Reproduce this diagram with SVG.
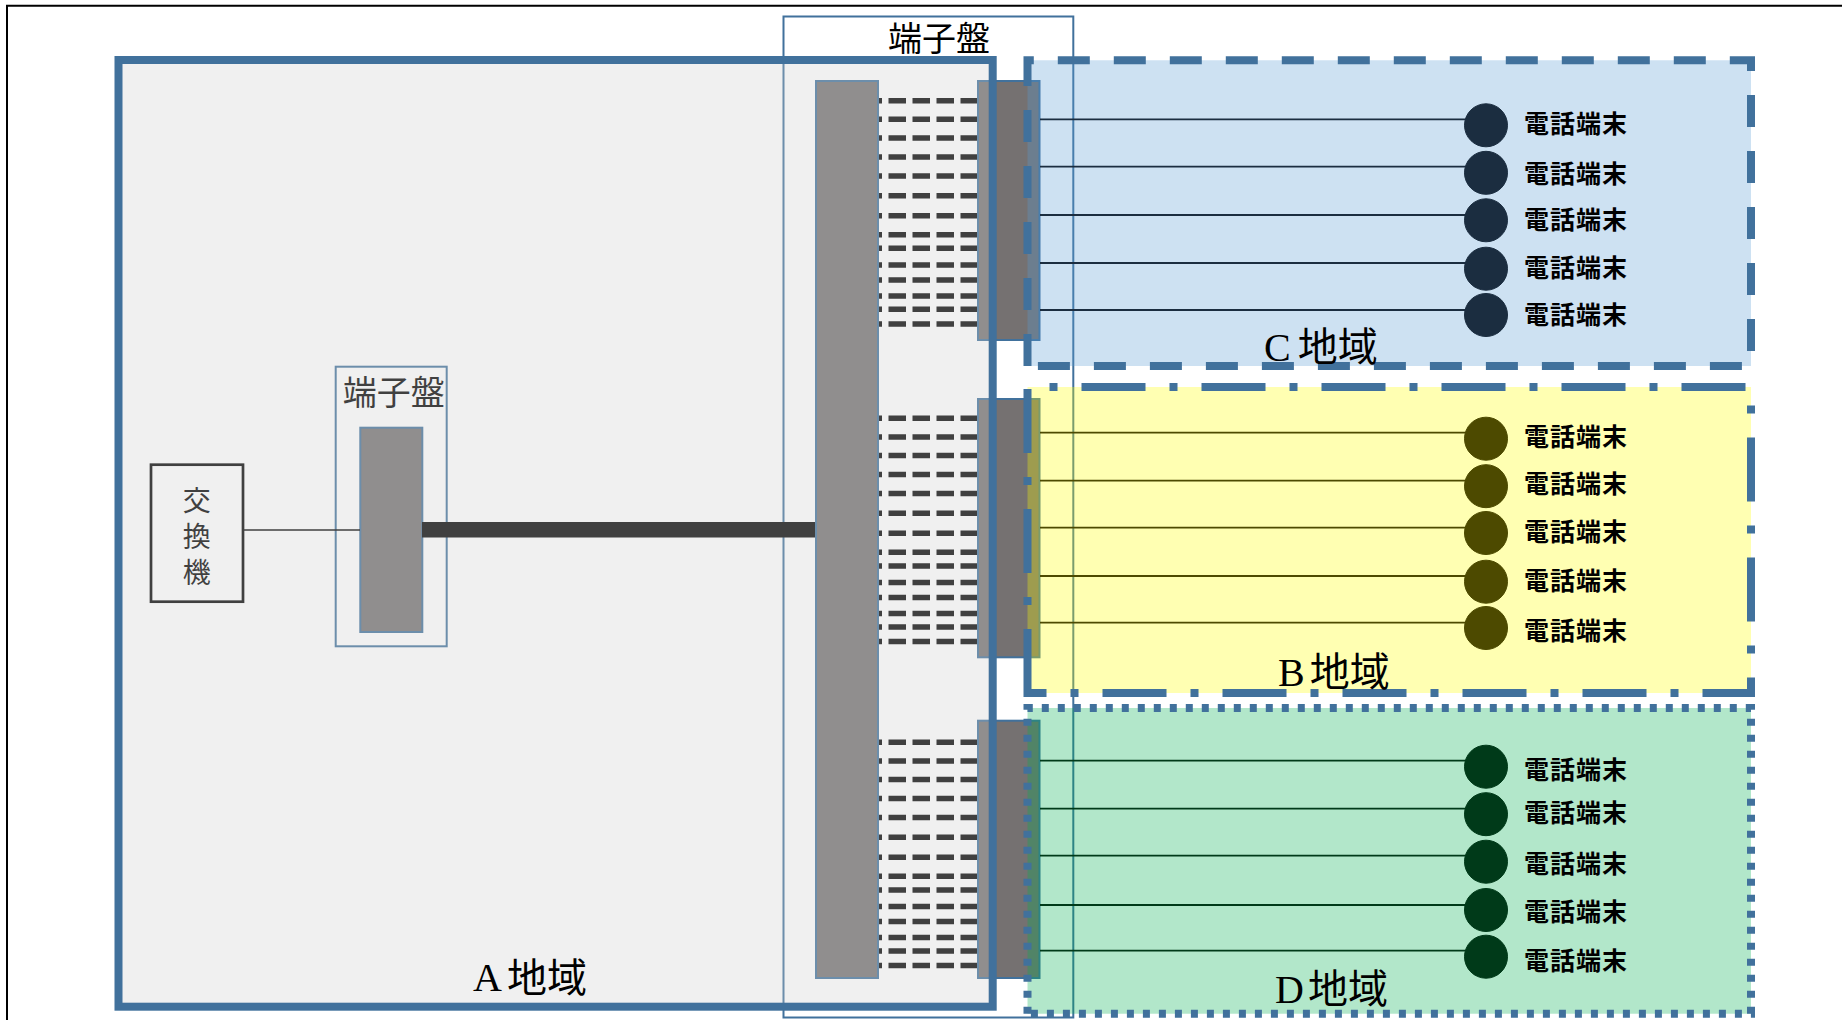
<svg xmlns="http://www.w3.org/2000/svg" width="1842" height="1020" viewBox="0 0 1842 1020">
<defs>
<style>
.jp{font-family:"Noto Sans CJK JP","Noto Sans CJK SC",sans-serif}
.lbl{font-family:"Liberation Serif","Noto Sans CJK JP",serif;font-size:40px;fill:#000}
.tel{font-family:"Noto Sans CJK JP",sans-serif;font-size:25px;font-weight:700;fill:#000;letter-spacing:1px;dominant-baseline:central}
.bar{fill:#757171;stroke:#41719C;stroke-width:2}
.thin{fill:none;stroke:#41719C;stroke-width:2}
.dl{stroke:#000;stroke-width:5.5;stroke-dasharray:17.5 6.5;fill:none}
.region{stroke:#41719C;stroke-width:8;stroke-linejoin:miter}
.c{stroke:#1b2d40;fill:#1b2d40}
.b{stroke:#4d4a00;fill:#4d4a00}
.d{stroke:#003a19;fill:#003a19}
.wire{stroke-width:1.8;fill:none}
</style>
</defs>
<rect width="1842" height="1020" fill="#fff"/>
<path d="M7,1022 V5.7 H1846" fill="none" stroke="#000" stroke-width="2"/>

<g id="frame-main">
<rect x="783.5" y="16.5" width="289.8" height="1001" class="thin"/>
<text class="jp" x="939" y="36.7" font-size="34" text-anchor="middle" dominant-baseline="central" fill="#000">端子盤</text>
</g>

<g id="exchange">
<rect x="151" y="464.7" width="92" height="137" fill="none" stroke="#000" stroke-width="2.7"/>
<text class="jp" x="196.7" y="486" font-size="28" writing-mode="vertical-rl" letter-spacing="8" fill="#000">交換機</text>
</g>

<g id="frame-small">
<rect x="335.7" y="366.7" width="111" height="279.6" class="thin"/>
<text class="jp" x="393.7" y="390" font-size="34" text-anchor="middle" dominant-baseline="central" fill="#000">端子盤</text>
<rect x="360.3" y="427.7" width="62" height="204.3" class="bar"/>
</g>

<g id="connectors-a">
<line x1="243" y1="530" x2="360" y2="530" stroke="#000" stroke-width="1.5"/>
<line x1="422" y1="529.7" x2="816" y2="529.7" stroke="#000" stroke-width="15.5"/>
<g id="patch-c">
<line x1="978" y1="100.7" x2="878" y2="100.7" class="dl"/>
<line x1="978" y1="119.3" x2="878" y2="119.3" class="dl"/>
<line x1="978" y1="138" x2="878" y2="138" class="dl"/>
<line x1="978" y1="157" x2="878" y2="157" class="dl"/>
<line x1="978" y1="176" x2="878" y2="176" class="dl"/>
<line x1="978" y1="195.7" x2="878" y2="195.7" class="dl"/>
<line x1="978" y1="215.7" x2="878" y2="215.7" class="dl"/>
<line x1="978" y1="234.7" x2="878" y2="234.7" class="dl"/>
<line x1="978" y1="248.3" x2="878" y2="248.3" class="dl"/>
<line x1="978" y1="265" x2="878" y2="265" class="dl"/>
<line x1="978" y1="280" x2="878" y2="280" class="dl"/>
<line x1="978" y1="296" x2="878" y2="296" class="dl"/>
<line x1="978" y1="309.3" x2="878" y2="309.3" class="dl"/>
<line x1="978" y1="324" x2="878" y2="324" class="dl"/>
</g>
<g id="patch-b">
<line x1="978" y1="418.3" x2="878" y2="418.3" class="dl"/>
<line x1="978" y1="436.9" x2="878" y2="436.9" class="dl"/>
<line x1="978" y1="455.6" x2="878" y2="455.6" class="dl"/>
<line x1="978" y1="474.6" x2="878" y2="474.6" class="dl"/>
<line x1="978" y1="493.6" x2="878" y2="493.6" class="dl"/>
<line x1="978" y1="513.3" x2="878" y2="513.3" class="dl"/>
<line x1="978" y1="533.3" x2="878" y2="533.3" class="dl"/>
<line x1="978" y1="552.3" x2="878" y2="552.3" class="dl"/>
<line x1="978" y1="565.9" x2="878" y2="565.9" class="dl"/>
<line x1="978" y1="582.6" x2="878" y2="582.6" class="dl"/>
<line x1="978" y1="597.6" x2="878" y2="597.6" class="dl"/>
<line x1="978" y1="613.6" x2="878" y2="613.6" class="dl"/>
<line x1="978" y1="626.9" x2="878" y2="626.9" class="dl"/>
<line x1="978" y1="641.6" x2="878" y2="641.6" class="dl"/>
</g>
<g id="patch-d">
<line x1="978" y1="742.3" x2="878" y2="742.3" class="dl"/>
<line x1="978" y1="760.9" x2="878" y2="760.9" class="dl"/>
<line x1="978" y1="779.6" x2="878" y2="779.6" class="dl"/>
<line x1="978" y1="798.6" x2="878" y2="798.6" class="dl"/>
<line x1="978" y1="817.6" x2="878" y2="817.6" class="dl"/>
<line x1="978" y1="837.3" x2="878" y2="837.3" class="dl"/>
<line x1="978" y1="857.3" x2="878" y2="857.3" class="dl"/>
<line x1="978" y1="876.3" x2="878" y2="876.3" class="dl"/>
<line x1="978" y1="889.9" x2="878" y2="889.9" class="dl"/>
<line x1="978" y1="906.6" x2="878" y2="906.6" class="dl"/>
<line x1="978" y1="921.6" x2="878" y2="921.6" class="dl"/>
<line x1="978" y1="937.6" x2="878" y2="937.6" class="dl"/>
<line x1="978" y1="950.9" x2="878" y2="950.9" class="dl"/>
<line x1="978" y1="965.6" x2="878" y2="965.6" class="dl"/>
</g>
</g>

<g id="main-bar"><rect x="816" y="81" width="62" height="897" class="bar"/></g>
<g id="block-c"><rect x="978" y="81" width="61.5" height="259" class="bar"/></g>
<g id="block-b"><rect x="978" y="399" width="61.5" height="258.3" class="bar"/></g>
<g id="block-d"><rect x="978" y="720.7" width="61.5" height="257.3" class="bar"/></g>

<g id="region-a">
<rect x="118.5" y="60" width="874.2" height="946.7" fill="#cecece" fill-opacity="0.31" stroke="#41719C" stroke-width="8"/>
<text class="lbl" x="473" y="977.5" dominant-baseline="central" fill="#000">A<tspan dx="5">地域</tspan></text>
</g>

<g id="region-c">
<path d="M1027.5,366 V60.3 H1751 V366 Z" class="region" fill="#5B9BD5" fill-opacity="0.3" stroke-dasharray="32 24"/>
</g>
<g id="region-b">
<path d="M1027.5,693 V387 H1751 V693 Z" class="region" fill="#FFFF00" fill-opacity="0.3" stroke-dasharray="64 24 8 24"/>
</g>
<g id="region-d">
<path d="M1027.5,1013.7 V708 H1751 V1013.7 Z" class="region" fill="#00B050" fill-opacity="0.3" stroke-dasharray="7 9"/>
</g>

<g id="connectors">
<g class="c wire">
<line x1="1040" y1="119.3" x2="1486" y2="119.3"/>
<line x1="1040" y1="166.7" x2="1486" y2="166.7"/>
<line x1="1040" y1="215" x2="1486" y2="215"/>
<line x1="1040" y1="263" x2="1486" y2="263"/>
<line x1="1040" y1="310" x2="1486" y2="310"/>
</g>
<g class="b wire">
<line x1="1040" y1="432.7" x2="1486" y2="432.7"/>
<line x1="1040" y1="480.7" x2="1486" y2="480.7"/>
<line x1="1040" y1="527.7" x2="1486" y2="527.7"/>
<line x1="1040" y1="576" x2="1486" y2="576"/>
<line x1="1040" y1="622.7" x2="1486" y2="622.7"/>
</g>
<g class="d wire">
<line x1="1040" y1="760.7" x2="1486" y2="760.7"/>
<line x1="1040" y1="808.7" x2="1486" y2="808.7"/>
<line x1="1040" y1="855.7" x2="1486" y2="855.7"/>
<line x1="1040" y1="905" x2="1486" y2="905"/>
<line x1="1040" y1="950.7" x2="1486" y2="950.7"/>
</g>
</g>

<g id="terminals-c">
<g id="tc1"><circle cx="1486" cy="125.3" r="21.5" class="c"/><text class="tel" x="1524" y="122">電話端末</text></g>
<g id="tc2"><circle cx="1486" cy="172.8" r="21.5" class="c"/><text class="tel" x="1524" y="172">電話端末</text></g>
<g id="tc3"><circle cx="1486" cy="220.3" r="21.5" class="c"/><text class="tel" x="1524" y="217.5">電話端末</text></g>
<g id="tc4"><circle cx="1486" cy="268.7" r="21.5" class="c"/><text class="tel" x="1524" y="266">電話端末</text></g>
<g id="tc5"><circle cx="1486" cy="315" r="21.5" class="c"/><text class="tel" x="1524" y="312.7">電話端末</text></g>
<text class="lbl" x="1264" y="347" dominant-baseline="central">C<tspan dx="7">地域</tspan></text>
</g>
<g id="terminals-b">
<g id="tb1"><circle cx="1486" cy="438.7" r="21.5" class="b"/><text class="tel" x="1524" y="435">電話端末</text></g>
<g id="tb2"><circle cx="1486" cy="486.2" r="21.5" class="b"/><text class="tel" x="1524" y="482">電話端末</text></g>
<g id="tb3"><circle cx="1486" cy="533" r="21.5" class="b"/><text class="tel" x="1524" y="530">電話端末</text></g>
<g id="tb4"><circle cx="1486" cy="581.7" r="21.5" class="b"/><text class="tel" x="1524" y="578.5">電話端末</text></g>
<g id="tb5"><circle cx="1486" cy="628" r="21.5" class="b"/><text class="tel" x="1524" y="628.5">電話端末</text></g>
<text class="lbl" x="1278" y="672" dominant-baseline="central">B<tspan dx="5">地域</tspan></text>
</g>
<g id="terminals-d">
<g id="td1"><circle cx="1486" cy="766.7" r="21.5" class="d"/><text class="tel" x="1524" y="768">電話端末</text></g>
<g id="td2"><circle cx="1486" cy="814.2" r="21.5" class="d"/><text class="tel" x="1524" y="810.5">電話端末</text></g>
<g id="td3"><circle cx="1486" cy="861.7" r="21.5" class="d"/><text class="tel" x="1524" y="861.8">電話端末</text></g>
<g id="td4"><circle cx="1486" cy="910" r="21.5" class="d"/><text class="tel" x="1524" y="910">電話端末</text></g>
<g id="td5"><circle cx="1486" cy="956.7" r="21.5" class="d"/><text class="tel" x="1524" y="959">電話端末</text></g>
<text class="lbl" x="1275" y="989" dominant-baseline="central">D<tspan dx="4">地域</tspan></text>
</g>
</svg>
